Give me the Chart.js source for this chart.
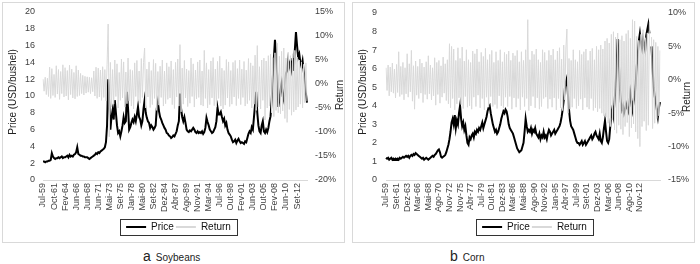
<!DOCTYPE html>
<html>
<head>
<meta charset="utf-8">
<script src="https://cdn.jsdelivr.net/npm/chart.js@4.4.0/dist/chart.umd.min.js"></script>
<style>
body { margin:0; width:700px; height:264px; background:#fff; position:relative; overflow:hidden; font-family:"Liberation Sans", Arial, sans-serif; }
.panel { position:absolute; top:2px; width:343px; height:241px; border:1px solid #d9d9d9; box-sizing:border-box; }
.panel canvas { display:block; }
.caption { position:absolute; top:248px; font-size:10px; color:#222; white-space:nowrap; }
.caption span { font-size:14px; margin-right:5px; }
</style>
</head>
<body>
<div class="panel" style="left:2px"><canvas id="soy" width="341" height="239"></canvas></div>
<div class="panel" style="left:352px"><canvas id="corn" width="341" height="239"></canvas></div>
<div class="caption" style="left:143px"><span>a</span>Soybeans</div>
<div class="caption" style="left:450px"><span>b</span>Corn</div>
<script>
// tick labels (one every 10 points)
const ticksSoy = ['Jul-59','Oct-61','Fev-64','Jun-66','Jun-68','Jun-71','Mai-73','Set-75','Jan-78','Mai-80','Set-82','Dez-84',
  'Abr-87','Ago-89','Nov-91','Mar-94','Jul-96','Out-98','Fev-01','Jun-03','Out-05','Fev-08','Jun-10','Set-12'];
const ticksCorn = ['Jul-59','Set-61','Dez-63','Mar-66','Mai-68','Ago-70','Nov-72','Nov-75','Abr-77','Jul-79','Out-81','Dez-83',
  'Mar-86','Mai-88','Ago-90','Nov-92','Jan-95','Abr-97','Jul-99','Set-01','Dez-03','Mar-06','Jun-08','Ago-10','Nov-12'];

// soybeans, USD/bushel
const priceSoy = [
  2.2,2.2,2.1,2.2,2.2,2.3,2.3,2.4,3.2,2.8, 2.6,2.5,2.6,2.6,2.7,2.6,2.7,2.8,2.6,2.7,
  2.7,2.8,2.9,2.7,3.0,2.8,2.9,2.8,3.0,3.1, 3.3,3.9,3.1,3.0,2.9,2.9,2.8,2.8,2.7,2.7,
  2.7,2.6,2.5,2.6,2.7,2.8,2.9,3.0,3.2,3.1, 3.3,3.2,3.4,3.5,3.6,3.7,3.9,4.5,6.5,12.0,
  9.0,6.0,7.5,8.3,7.2,9.5,8.0,6.5,5.6,5.8, 5.2,5.8,6.5,7.5,6.8,7.0,10.5,8.5,6.0,6.3,
  6.8,7.2,6.9,7.5,7.0,7.8,8.7,7.5,7.2,6.5, 7.0,8.5,9.5,8.0,7.4,7.0,6.8,6.2,6.5,6.3,
  6.0,6.2,6.5,8.5,9.3,8.2,7.5,7.2,6.8,6.5, 6.2,6.0,5.6,5.5,5.3,5.2,5.0,5.1,5.3,5.2,
  5.5,5.8,6.5,7.0,10.3,8.5,7.5,7.0,7.5,6.8, 6.0,5.8,5.7,5.9,5.8,6.0,6.2,6.0,5.7,5.6,
  5.8,5.6,5.7,5.6,5.8,5.5,5.7,6.2,7.4,6.9, 6.5,6.0,5.8,5.6,5.7,6.0,6.3,7.0,8.6,7.8,
  7.8,8.1,7.5,7.0,7.3,6.5,6.8,6.0,5.6,5.4, 5.2,4.8,4.5,4.6,4.8,4.4,4.7,4.9,4.6,4.4,
  4.5,4.4,4.3,4.6,4.5,5.0,5.5,5.8,5.6,6.3, 6.0,7.5,9.0,10.5,8.0,6.5,5.8,5.6,6.5,7.0,
  5.8,5.6,6.0,5.7,6.2,7.0,7.6,9.5,12.0,14.5, 16.7,15.0,12.5,8.7,9.5,10.7,11.5,10.0,9.5,11.0,
  12.7,13.0,14.3,13.5,14.0,13.2,14.5,13.0,15.5,17.6, 16.0,14.6,15.0,14.0,13.5,14.2,13.0,12.0,10.3,9.2
];
// soybeans, return %
const returnSoy = [
  1.0,-1.5,1.4,-2.2,1.2,-2.6,3.5,-3.0,3.2,-2.4, 2.0,-2.8,3.8,-2.1,3.0,-3.2,2.6,-2.0,4.0,-2.7,
  3.4,-2.5,2.8,-3.3,3.9,-2.2,3.1,-2.9,2.4,-3.1, 3.8,-2.6,2.9,-2.4,2.2,-2.0,1.8,-2.3,1.6,-1.9,
  1.5,-1.7,1.4,-2.0,1.3,-1.6,2.7,-2.5,3.5,-3.0, 3.3,-2.7,2.9,-3.4,3.6,-2.8,3.0,-3.5,4.0,12.5,
  -11.0,4.5,-4.8,3.0,-4.2,5.0,-2.6,4.2,-5.0,2.4, -3.4,5.2,-2.9,4.6,-4.8,2.5,-4.1,5.4,-3.5,3.0,
  -4.6,2.8,-5.2,4.4,-2.6,4.9,-3.5,2.7,-4.0,5.3, -2.8,4.5,7.5,-5.0,3.1,-2.7,4.6,-4.9,2.8,-4.3,
  5.1,-3.0,4.3,-5.5,2.6,-4.4,3.7,-2.8,5.0,-4.6, 2.7,-4.1,4.4,-3.2,3.6,-2.9,4.8,-4.3,3.0,-5.1,
  4.5,-2.7,5.2,-4.6,8.2,-5.8,3.3,-4.2,4.9,-2.9, 3.1,-4.7,2.8,-4.0,5.4,-2.6,4.2,-4.8,2.9,-3.1,
  4.6,-2.8,5.0,-4.4,2.7,-4.6,7.0,-3.0,4.4,-5.0, 3.0,-4.3,4.8,-2.9,5.5,-4.5,3.1,-4.8,4.7,-3.0,
  5.8,-4.6,3.3,-5.2,2.8,-4.4,5.1,-2.9,4.6,-4.7, 2.8,-4.2,4.5,-2.7,4.9,-4.5,3.2,-3.0,5.0,-4.3,
  3.1,-2.8,4.7,-4.6,2.9,-4.1,5.3,-3.4,4.4,-5.0, 3.8,-4.2,6.0,-5.5,8.0,-4.8,3.6,-5.2,5.0,-3.4,
  5.4,-7.5,4.8,-5.0,5.9,-4.6,6.2,-6.0,5.5,-6.8, 6.5,-5.5,8.5,-6.0,5.8,-6.2,6.8,-5.6,7.5,-7.2,
  5.4,-8.0,6.6,-5.3,5.9,-6.5,6.3,-5.8,7.0,-5.4, 5.6,-4.8,5.0,-4.2,4.6,-5.0,4.1,-3.9,4.4,-3.6
];

// corn, USD/bushel
const priceCorn = [
  1.2,1.15,1.2,1.1,1.15,1.2,1.1,1.15,1.1,1.15, 1.1,1.15,1.1,1.2,1.15,1.2,1.25,1.2,1.25,1.3,
  1.25,1.3,1.2,1.3,1.35,1.3,1.4,1.35,1.45,1.4, 1.35,1.3,1.25,1.2,1.15,1.2,1.1,1.15,1.2,1.15,
  1.1,1.15,1.2,1.25,1.3,1.25,1.35,1.4,1.5,1.6, 1.65,1.5,1.25,1.2,1.25,1.3,1.35,1.5,1.7,1.9,
  2.2,2.6,3.1,3.3,3.0,3.5,2.8,3.2,3.0,3.6, 4.0,3.3,2.9,3.1,2.7,2.9,2.4,2.0,1.9,2.3,
  2.2,2.4,2.5,2.3,2.6,2.5,2.7,2.6,2.8,2.7, 2.9,3.1,2.8,3.0,3.2,3.4,3.7,3.9,4.0,3.6,
  3.3,3.0,2.8,2.6,2.7,2.5,2.6,2.8,3.0,3.3, 3.5,3.7,3.6,3.8,3.7,3.4,3.0,2.8,2.7,2.6,
  2.5,2.3,2.1,1.9,1.7,1.6,1.5,1.55,1.6,1.8, 2.0,2.6,3.3,2.9,2.6,2.7,2.6,2.8,2.5,2.7,
  2.6,2.8,2.5,2.4,2.3,2.5,2.2,2.4,2.3,2.6, 2.3,2.4,2.2,2.5,2.7,2.6,2.4,2.5,2.6,2.7,
  2.5,2.6,2.7,2.8,2.9,3.1,3.4,3.8,4.3,4.9, 5.3,5.5,4.6,3.8,3.2,2.9,2.8,2.7,2.5,2.3,
  2.1,2.0,2.0,1.9,2.0,2.1,1.9,2.0,2.1,1.9, 2.0,2.1,2.2,2.3,2.4,2.2,2.3,2.5,2.6,2.4,
  2.3,2.2,2.5,2.1,2.0,2.3,2.8,3.2,2.6,2.1, 2.0,2.2,2.9,3.6,3.9,3.5,4.2,5.0,6.2,7.6,
  6.5,5.0,4.2,3.8,4.0,3.6,3.8,4.1,3.9,3.7, 4.0,4.7,4.3,3.8,4.2,4.5,5.2,6.1,6.8,7.5,
  7.9,7.4,7.1,7.6,7.3,7.0,7.8,8.1,8.4,7.9, 7.4,7.2,6.0,5.0,4.5,4.2,3.8,3.4,3.9,4.2
];
// corn, return %
const returnCorn = [
  1.8,-1.6,2.2,-2.4,1.9,-1.8,2.5,-2.0,1.6,-2.7, 2.3,-1.9,4.2,-2.5,2.0,-2.2,2.6,-3.0,1.8,-2.1,
  3.9,-2.6,2.4,-1.8,4.4,-3.2,2.1,-4.4,2.8,-2.3, 2.0,-2.8,3.1,-2.0,2.5,-3.4,1.9,-2.2,2.7,-2.9,
  3.6,-2.1,2.2,-3.0,1.8,-2.4,3.3,-3.8,2.6,-2.2, 2.9,-3.5,2.1,-2.6,3.4,-2.0,2.4,-3.1,3.0,-3.6,
  5.4,-4.2,5.0,-2.8,4.6,-4.5,2.9,-3.6,4.8,-2.7, 3.2,-3.7,4.9,-4.3,2.8,-2.5,4.5,-4.1,3.0,-3.9,
  2.6,-4.4,4.3,-2.6,3.9,-4.0,4.6,-2.3,2.7,-4.2, 4.1,-2.8,3.5,-4.5,4.7,-2.6,3.0,-4.1,3.8,-2.5,
  4.4,-4.0,2.6,-3.7,4.2,-4.3,2.9,-2.4,4.5,-3.9, 2.7,-4.2,4.1,-2.6,3.8,-4.0,4.3,-2.5,2.9,-4.4,
  4.0,-2.7,3.6,-4.1,4.4,-2.8,2.7,-4.5,4.2,-2.6, 2.9,-4.0,4.5,-2.8,9.0,-4.6,3.0,-3.9,4.3,-2.5,
  3.8,-4.2,4.6,-2.7,3.0,-4.4,2.6,-4.0,4.5,-2.8, 4.1,-2.6,2.9,-4.3,4.4,-2.9,3.7,-4.1,4.6,-2.7,
  3.0,-4.5,4.3,-2.8,4.8,-4.2,3.1,-4.6,5.2,-3.0, 4.6,7.6,-5.0,3.2,-4.4,2.9,-4.1,4.5,-2.8,3.0,
  -4.3,2.7,-3.9,4.4,-2.9,3.8,-4.5,4.2,-2.7,4.6, -4.1,2.9,-4.4,4.3,-2.8,4.7,-4.6,3.0,-4.2,5.0,
  -4.8,4.5,-4.3,5.2,-5.0,4.6,-5.4,5.8,-5.6,6.2, -6.5,5.5,-7.0,6.8,-6.0,7.2,-7.5,6.4,-8.0,7.0,
  -6.8,6.0,-7.4,6.6,-8.2,5.8,-7.0,6.9,-6.4,7.4, -8.5,6.2,-7.2,9.0,-6.6,8.8,-7.8,6.5,-8.8,5.9,
  -10.0,6.8,-7.0,7.5,-6.2,6.3,-7.6,7.0,-6.8,8.6, -9.0,6.4,-7.3,6.0,-6.5,5.6,-5.8,5.0,-5.4,4.4
];

Chart.defaults.font.family = '"Liberation Sans", Arial, sans-serif';
Chart.defaults.color = '#404040';

// rotated axis titles, legend offset and frame round the legend
const extras = {
  id: 'extras',
  afterLayout(chart, args, opts) {
    const lg = chart.legend;
    lg.left += opts.legendShift;
    lg.right += opts.legendShift;
  },
  afterDraw(chart, args, opts) {
    const ctx = chart.ctx;
    ctx.save();
    ctx.fillStyle = '#222';
    ctx.font = '10px "Liberation Sans", Arial, sans-serif';
    ctx.textAlign = 'center';
    ctx.textBaseline = 'middle';
    opts.titles.forEach(t => {
      ctx.save();
      ctx.translate(t.x, t.y);
      ctx.rotate(-Math.PI / 2);
      ctx.fillText(t.text, 0, 0);
      ctx.restore();
    });
    const hb = chart.legend.legendHitBoxes;
    const l = Math.min(...hb.map(b => b.left)) - 6;
    const r = Math.max(...hb.map(b => b.left + b.width)) + 6;
    const t = hb[0].top - 3;
    ctx.strokeStyle = '#333';
    ctx.lineWidth = 1;
    ctx.strokeRect(Math.round(l) + 0.5, Math.round(t) + 0.5, Math.round(r - l), 16);
    ctx.restore();
  }
};

function makeChart(id, price, ret, ticks, o) {
  const labels = price.map((v, i) => i % 10 === 0 ? ticks[i / 10] : '');
  const fitY = w => s => { s.width = w; s.paddingTop = 0; s.paddingBottom = 0; };
  new Chart(document.getElementById(id), {
    type: 'line',
    data: {
      labels: labels,
      datasets: [{
        label: 'Price',
        data: price,
        borderColor: '#000',
        backgroundColor: '#000',
        borderWidth: 2,
        pointRadius: 0,
        yAxisID: 'y',
        order: 2
      }, {
        label: 'Return',
        data: ret,
        borderColor: '#d9d9d9',
        backgroundColor: '#d9d9d9',
        borderWidth: 1,
        pointRadius: 0,
        yAxisID: 'y2',
        order: 1
      }]
    },
    options: {
      responsive: false,
      animation: false,
      events: [],
      layout: { padding: { top: o.top, left: 0, right: 0, bottom: 0 } },
      scales: {
        x: {
          grid: { display: false, drawTicks: false },
          border: { display: true, color: '#d9d9d9' },
          ticks: { autoSkip: false, minRotation: 90, maxRotation: 90, padding: 3, font: { size: 9 } },
          afterFit: s => { s.height = 40; }
        },
        y: {
          position: 'left',
          min: o.yMin, max: o.yMax,
          grid: { display: false, drawTicks: false },
          border: { display: false },
          ticks: { stepSize: o.yStep, padding: o.yPad, font: { size: 9 } },
          afterFit: fitY(o.yWidth)
        },
        y2: {
          position: 'right',
          min: o.rMin, max: o.rMax,
          grid: { display: false, drawTicks: false },
          border: { display: false },
          ticks: { stepSize: 5, padding: 8, font: { size: 9 }, callback: v => v + '%' },
          afterFit: fitY(o.rWidth)
        }
      },
      plugins: {
        tooltip: { enabled: false },
        legend: {
          position: 'bottom',
          labels: {
            usePointStyle: true,
            pointStyle: 'line',
            pointStyleWidth: 20,
            padding: 2,
            color: '#111',
            font: { size: 10 },
            sort: (a, b) => a.datasetIndex - b.datasetIndex,
            generateLabels: c => Chart.defaults.plugins.legend.labels.generateLabels(c).map(it => ({ ...it, lineWidth: 2 }))
          }
        },
        extras: { titles: o.titles, legendShift: o.legendShift }
      }
    },
    plugins: [extras]
  });
}

makeChart('soy', priceSoy, returnSoy, ticksSoy, {
  top: 9, yWidth: 40, rWidth: 37, yPad: 8, legendShift: 5,
  yMin: 0, yMax: 20, yStep: 2, rMin: -20, rMax: 15,
  titles: [{ text: 'Price (USD/bushel)', x: 10, y: 89 }, { text: 'Return', x: 337, y: 92 }]
});
makeChart('corn', priceCorn, returnCorn, ticksCorn, {
  top: 10, yWidth: 33, rWidth: 34, yPad: 9, legendShift: 11,
  yMin: 0, yMax: 9, yStep: 1, rMin: -15, rMax: 10,
  titles: [{ text: 'Price (USD/bushel)', x: 10, y: 89 }, { text: 'Return', x: 334, y: 94 }]
});
</script>
</body>
</html>
